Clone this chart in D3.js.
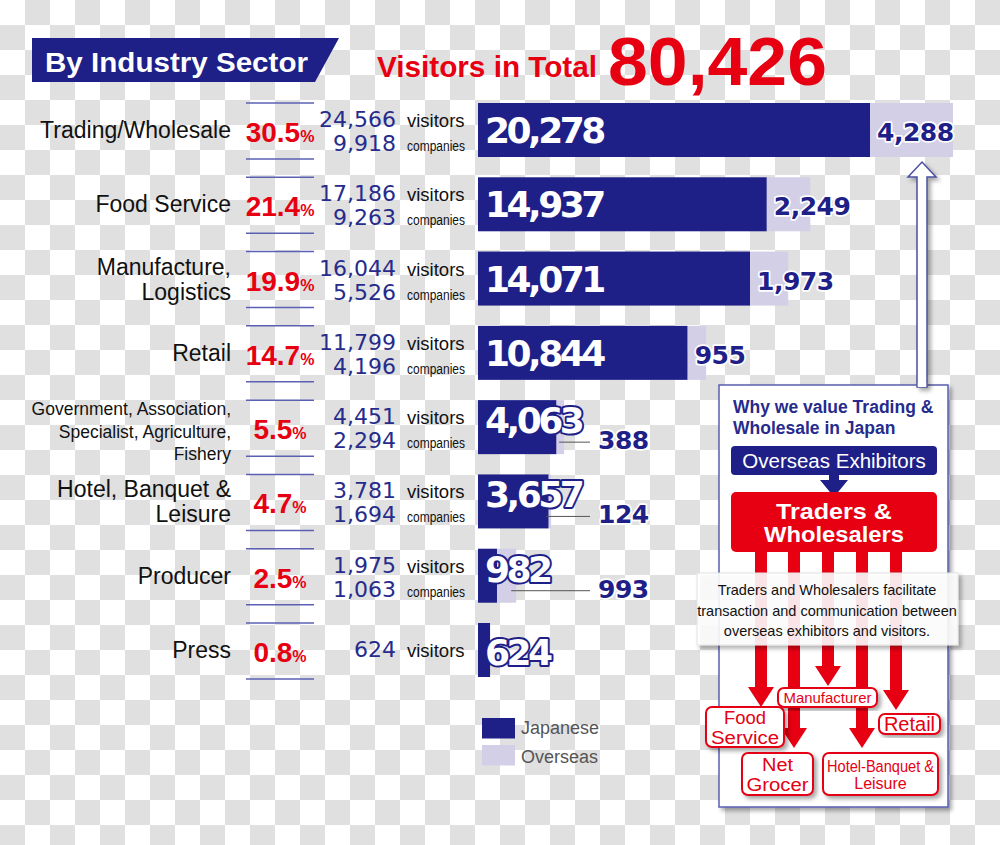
<!DOCTYPE html>
<html><head><meta charset="utf-8">
<script src="https://cdn.jsdelivr.net/npm/d3@7"></script>
<style>body{margin:0;background:#fff}svg{display:block}</style>
</head><body><div id="chart"></div>
<script>
// ---------- data ----------
const categories = [["Trading/Wholesale"],["Food Service"],["Manufacture,","Logistics"],["Retail"],
  ["Government, Association,","Specialist, Agriculture,","Fishery"],["Hotel, Banquet &","Leisure"],["Producer"],["Press"]];
const shares = [30.5,21.4,19.9,14.7,5.5,4.7,2.5,0.8];
const visitors = [24566,17186,16044,11799,4451,3781,1975,624];
const companies = [9918,9263,5526,4196,2294,1694,1063,null];
const japanese = [20278,14937,14071,10844,4063,3657,982,624];
const overseas = [4288,2249,1973,955,388,124,993,0];
const legendLabels = ["Japanese","Overseas"];
const flowTargets = [["Food","Service"],["Net","Grocer"],["Manufacturer"],["Hotel-Banquet &","Leisure"],["Retail"]];

// ---------- styles ----------
const NAVY="#1e2088", LIGHT="#d2cfe6", RED="#e60012", NAVY2="#262b8c", LINE="#5b60b3";
const SANS="'Liberation Sans', Arial, sans-serif";
const ROUND="'DejaVu Sans', Verdana, sans-serif";
const fmt=d3.format(",");

const svg=d3.select("#chart").append("svg").attr("width",1000).attr("height",845);
const defs=svg.append("defs");
const pat=defs.append("pattern").attr("id","checker").attr("width",50).attr("height",50).attr("patternUnits","userSpaceOnUse");
pat.append("rect").attr("width",50).attr("height",50).attr("fill","#fff");
pat.append("rect").attr("x",25).attr("y",0).attr("width",25).attr("height",25).attr("fill","#e0e0e0");
pat.append("rect").attr("x",0).attr("y",25).attr("width",25).attr("height",25).attr("fill","#e0e0e0");
const sh=defs.append("filter").attr("id","shadow").attr("x","-10%").attr("y","-10%").attr("width","130%").attr("height","130%");
sh.append("feDropShadow").attr("dx",3).attr("dy",3).attr("stdDeviation",2).attr("flood-color","#000").attr("flood-opacity",0.35);
svg.append("rect").attr("width",1000).attr("height",845).attr("fill","url(#checker)");

// ---------- header ----------
svg.append("polygon").attr("points","32,38 339,38 315,82 32,82").attr("fill",NAVY);
svg.append("text").attr("x",45).attr("y",72).attr("fill","#fff").attr("font-family",SANS)
  .attr("font-weight","bold").attr("font-size",27.5).attr("textLength",263).attr("lengthAdjust","spacingAndGlyphs")
  .text("By Industry Sector");
svg.append("text").attr("x",377).attr("y",77).attr("fill",RED).attr("font-family",SANS)
  .attr("font-weight","bold").attr("font-size",29.5).attr("textLength",220).attr("lengthAdjust","spacingAndGlyphs")
  .text("Visitors in Total");
svg.append("text").attr("x",608).attr("y",85).attr("fill",RED).attr("font-family",SANS)
  .attr("font-weight","bold").attr("font-size",68).attr("textLength",219).attr("lengthAdjust","spacingAndGlyphs")
  .text(fmt(d3.sum(visitors)));

// ---------- scales ----------
const idx=d3.range(categories.length);
const x=d3.scaleLinear().domain([0,d3.max(visitors)]).range([478,953]);
const y=d3.scaleBand().domain(idx).range([103,677]).paddingInner(0.273).paddingOuter(0);

const rows=svg.selectAll("g.row").data(idx).join("g").attr("class","row");

rows.each(function(i){
  const g=d3.select(this);
  const y0=y(i), cy=y0+y.bandwidth()/2;
  // category labels
  const lines=categories[i];
  const fs=lines.length>2?17.5:23;
  const offs=lines.length===1?[8]:lines.length===2?[-4,21]:[-12,10.5,33];
  lines.forEach((t,k)=>g.append("text").attr("x",231).attr("y",cy+offs[k]).attr("text-anchor","end")
    .attr("font-family",SANS).attr("font-size",fs).attr("fill","#111").text(t));
  // share
  const pt=g.append("text").attr("x",280).attr("y",cy+12).attr("text-anchor","middle").attr("fill",RED)
    .attr("font-family",SANS).attr("font-weight","bold");
  pt.append("tspan").attr("font-size",28).text(shares[i].toFixed(1));
  pt.append("tspan").attr("font-size",16).text("%");
  [y0,y0+56].forEach(yy=>g.append("line").attr("x1",246).attr("x2",314).attr("y1",yy).attr("y2",yy)
    .attr("stroke",LINE).attr("stroke-width",1.5));
  // visitors / companies
  const hasC=companies[i]!=null;
  const vy=hasC?cy-3:cy+7;
  g.append("text").attr("x",396).attr("y",vy).attr("text-anchor","end").attr("font-family",ROUND)
    .attr("font-size",22).attr("fill",NAVY2).text(fmt(visitors[i]));
  g.append("text").attr("x",407).attr("y",vy).attr("font-family",SANS).attr("font-size",18.5).attr("fill","#111").text("visitors");
  if(hasC){
    g.append("text").attr("x",396).attr("y",cy+21).attr("text-anchor","end").attr("font-family",ROUND)
      .attr("font-size",22).attr("fill",NAVY2).text(fmt(companies[i]));
    g.append("text").attr("x",407).attr("y",cy+21).attr("font-family",SANS).attr("font-size",14)
      .attr("textLength",58).attr("lengthAdjust","spacingAndGlyphs").attr("fill","#111").text("companies");
  }
  // bars
  const xj=x(japanese[i]), xt=x(japanese[i]+overseas[i]);
  g.append("rect").attr("x",x(0)).attr("y",y0).attr("width",xj-x(0)).attr("height",y.bandwidth()).attr("fill",NAVY);
  if(overseas[i]>0) g.append("rect").attr("x",xj).attr("y",y0).attr("width",xt-xj).attr("height",y.bandwidth()).attr("fill",LIGHT);
  const inline=(xj-x(0))>150;
  // overseas label
  if(overseas[i]>0){
    let lx, ly;
    if(inline){ lx=xj+7; ly=cy+11; }
    else {
      lx=598; ly=cy+22;
      g.append("line").attr("x1",xt-5).attr("x2",590).attr("y1",ly-7).attr("y2",ly-7).attr("stroke","#555").attr("stroke-width",1);
    }
    g.append("text").attr("x",lx).attr("y",ly).attr("font-family",ROUND).attr("font-weight","bold").attr("font-size",25)
      .attr("letter-spacing",-0.5).attr("fill",NAVY).attr("stroke","#fff").attr("stroke-width",3.5)
      .attr("stroke-linejoin","round").attr("paint-order","stroke").text(fmt(overseas[i]));
  }
  // japanese label
  const jy = inline? cy+13 : (overseas[i]>0 ? y0+33 : cy+15);
  g.append("text").attr("x",485).attr("y",jy).attr("font-family",ROUND).attr("font-weight","bold").attr("font-size",36)
    .attr("letter-spacing",-3.5).attr("fill","#fff").attr("stroke",NAVY).attr("stroke-width",4)
    .attr("stroke-linejoin","round").attr("paint-order","stroke").text(fmt(japanese[i]));
});

// ---------- legend ----------
const leg=svg.append("g");
[NAVY,LIGHT].forEach((c,k)=>{
  leg.append("rect").attr("x",482).attr("y",718+k*27).attr("width",33).attr("height",20.5).attr("fill",c);
  leg.append("text").attr("x",521).attr("y",734+k*28.5).attr("font-family",SANS).attr("font-size",18)
    .attr("fill","#555").text(legendLabels[k]);
});

// ---------- right diagram ----------
const R=svg.append("g");
R.append("rect").attr("x",719).attr("y",385).attr("width",229).attr("height",422).attr("fill","#fff")
  .attr("stroke","#5a5fb0").attr("stroke-width",1.5).attr("filter","url(#shadow)");
R.append("polygon").attr("points","917,387 917,177 908,177 922,162 936,177 927,177 927,387")
  .attr("fill","#fff").attr("stroke","#4a4fa0").attr("stroke-width",1.5).attr("filter","url(#shadow)");
R.append("rect").attr("x",917.8).attr("y",383).attr("width",8.4).attr("height",4).attr("fill","#fff");
R.append("text").attr("x",733).attr("y",413).attr("font-family",SANS).attr("font-weight","bold").attr("font-size",17.5)
  .attr("fill",NAVY2).text("Why we value Trading &");
R.append("text").attr("x",733).attr("y",434).attr("font-family",SANS).attr("font-weight","bold").attr("font-size",17.5)
  .attr("fill",NAVY2).text("Wholesale in Japan");
R.append("rect").attr("x",731).attr("y",446).attr("width",206).attr("height",29).attr("rx",4).attr("fill",NAVY);
R.append("text").attr("x",834).attr("y",468).attr("text-anchor","middle").attr("font-family",SANS).attr("font-size",20.5)
  .attr("fill","#fff").text("Overseas Exhibitors");
R.append("polygon").attr("points","829,474 839,474 839,480 848,480 834,497 820,480 829,480").attr("fill",NAVY);
R.append("rect").attr("x",731).attr("y",492).attr("width",206).attr("height",60).attr("rx",5).attr("fill",RED);
R.append("text").attr("x",834).attr("y",519).attr("text-anchor","middle").attr("font-family",SANS).attr("font-weight","bold")
  .attr("font-size",22).attr("textLength",116).attr("lengthAdjust","spacingAndGlyphs").attr("fill","#fff").text("Traders &");
R.append("text").attr("x",834).attr("y",542).attr("text-anchor","middle").attr("font-family",SANS).attr("font-weight","bold")
  .attr("font-size",22).attr("textLength",140).attr("lengthAdjust","spacingAndGlyphs").attr("fill","#fff").text("Wholesalers");
// red arrows
const arrows=[[761,707],[794,748],[828,686],[862,748],[896,710]];
arrows.forEach(([cx,tip])=>{
  R.append("polygon").attr("points",`${cx-6},551 ${cx+6},551 ${cx+6},${tip-20} ${cx+13},${tip-20} ${cx},${tip} ${cx-13},${tip-20} ${cx-6},${tip-20}`)
    .attr("fill",RED);
});
// caption
R.append("rect").attr("x",697).attr("y",573).attr("width",261).attr("height",72).attr("fill","#fff").attr("fill-opacity",0.88)
  .attr("stroke","#e4e4e4").attr("stroke-width",1).attr("filter","url(#shadow)");
["Traders and Wholesalers facilitate","transaction and communication between","overseas exhibitors and visitors."].forEach((t,k)=>
  R.append("text").attr("x",827).attr("y",595+k*20.5).attr("text-anchor","middle").attr("font-family",SANS)
    .attr("font-size",14.5).attr("fill","#111").text(t));
// target boxes
const boxes=[
  {b:[706,707,78,40],fs:17.5,ys:[724,743.8],tl:[42,68]},
  {b:[742,753,71,42],fs:17.5,ys:[771,790.8],tl:[31,62]},
  {b:[778,688,99,19],fs:15.5,ys:[703],tl:[88]},
  {b:[823,753,115,42],fs:16,ys:[772,789],tl:[107,null]},
  {b:[879,714,61,20],fs:20,ys:[731]}
];
boxes.forEach((o,k)=>{
  const [bx,by,bw,bh]=o.b;
  R.append("rect").attr("x",bx).attr("y",by).attr("width",bw).attr("height",bh).attr("rx",6).attr("fill","#fff")
    .attr("stroke",RED).attr("stroke-width",2).attr("filter","url(#shadow)");
  flowTargets[k].forEach((t,j)=>{
    const tx=R.append("text").attr("x",bx+bw/2).attr("y",o.ys[j]).attr("text-anchor","middle").attr("font-family",SANS)
      .attr("font-size",o.fs).attr("fill",RED).text(t);
    if(o.tl && o.tl[j]) tx.attr("textLength",o.tl[j]).attr("lengthAdjust","spacingAndGlyphs");
  });
});
</script></body></html>
